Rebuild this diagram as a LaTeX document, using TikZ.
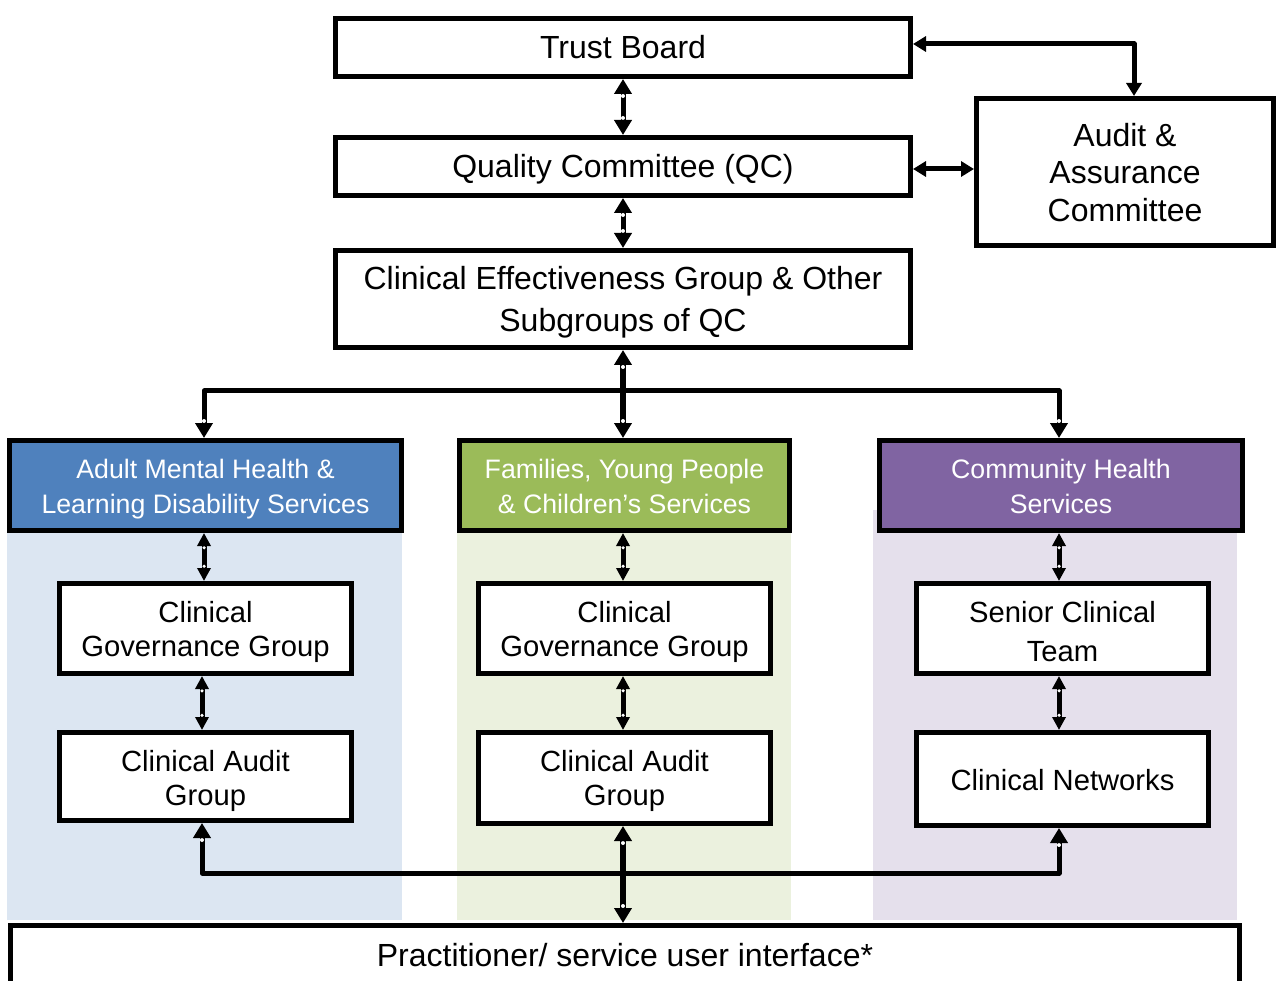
\documentclass[tikz,border=0pt]{standalone}
\usepackage{fontspec}
\setmainfont{Liberation Sans}
\usetikzlibrary{arrows.meta,calc}
\definecolor{hblue}{HTML}{4F81BD}
\definecolor{hgreen}{HTML}{9BBB59}
\definecolor{hpurple}{HTML}{8064A2}
\definecolor{lblue}{HTML}{DCE6F2}
\definecolor{lgreen}{HTML}{EBF1DE}
\definecolor{lpurple}{HTML}{E5E0EC}
\newcommand{\mytxt}[2]{\raisebox{-#1}[\height][\depth]{\begin{tabular}{@{}c@{}}#2\end{tabular}}}
\tikzset{
  box/.style={draw, line width=5pt, fill=white, inner sep=0pt,
    font=\fontsize{32}{37.5}\selectfont},
  bigbox/.style={box, font=\fontsize{32}{41.5}\selectfont},
  subbox/.style={box, font=\fontsize{29.2}{34}\selectfont},
  hdr/.style={draw, line width=5pt, inner sep=0pt, text=white,
    font=\fontsize{26.7}{35}\selectfont},
  dbl/.style={line width=5pt, line join=round, shorten >=5pt, shorten <=5pt,
    arrows={Triangle[width=17pt,length=15pt,sep=-5pt] Circle[length=4pt,line width=0pt,color=white,fill=white]}-{Circle[length=4pt,line width=0pt,color=white,fill=white] Triangle[width=17pt,length=15pt,sep=-5pt]}},
  dbls/.style={line width=5pt, line join=round, shorten >=4pt, shorten <=4pt,
    arrows={Triangle[width=13pt,length=13pt,sep=-4pt] Circle[length=3.5pt,line width=0pt,color=white,fill=white]}-{Circle[length=3.5pt,line width=0pt,color=white,fill=white] Triangle[width=13pt,length=13pt,sep=-4pt]}},
  sgl/.style={line width=5pt, line join=round, shorten >=5pt,
    arrows=-{Circle[length=4pt,line width=0pt,color=white,fill=white] Triangle[width=17pt,length=15pt,sep=-5pt]}},
  hh/.style={line width=5pt, line join=round,
    arrows={Triangle[width=15pt,length=13pt]}-{Triangle[width=15pt,length=13pt]}}
}
\begin{document}
\begin{tikzpicture}[x=1pt,y=-1pt]
\useasboundingbox (0,0) rectangle (1277,981);
% background panels
\fill[lblue] (7,533) rectangle (402,920);
\fill[lgreen] (457,533) rectangle (791,920);
\fill[lpurple] (873,510) rectangle (1237,920);
% top boxes
\node[box, minimum width=575pt, minimum height=58pt] (tb) at (623,47.5) {\mytxt{3.5pt}{Trust Board}};
\node[box, minimum width=575pt, minimum height=58pt] (qc) at (623,166.5) {\mytxt{3.5pt}{Quality Committee (QC)}};
\node[bigbox, minimum width=575pt, minimum height=97pt] (ceg) at (623,299) {\mytxt{3.3pt}{Clinical Effectiveness Group \& Other\\Subgroups of QC}};
\node[box, minimum width=297pt, minimum height=147pt] (au) at (1125,172) {\mytxt{4.5pt}{Audit \&\\Assurance\\Committee}};
% headers
\node[hdr, fill=hblue, minimum width=392pt, minimum height=90pt] (bh) at (205.5,485.5) {\mytxt{3.6pt}{Adult Mental Health \&\\Learning Disability Services}};
\node[hdr, fill=hgreen, minimum width=330pt, minimum height=90pt] (gh) at (624.5,485.5) {\mytxt{3.6pt}{Families, Young People\\\& Children’s Services}};
\node[hdr, fill=hpurple, minimum width=363pt, minimum height=90pt] (ph) at (1061,485.5) {\mytxt{3.6pt}{Community Health\\Services}};
% inner boxes
\node[subbox, minimum width=292pt, minimum height=90pt] (bcg) at (205.5,628.5) {\mytxt{4.2pt}{Clinical\\Governance Group}};
\node[subbox, minimum width=292pt, minimum height=88pt] (bca) at (205.5,776.5) {\mytxt{5pt}{Clinical Audit\\Group}};
\node[subbox, minimum width=292pt, minimum height=90pt] (gcg) at (624.5,628.5) {\mytxt{4.2pt}{Clinical\\Governance Group}};
\node[subbox, minimum width=292pt, minimum height=91pt] (gca) at (624.5,778) {\mytxt{3.8pt}{Clinical Audit\\Group}};
\node[subbox, font=\fontsize{29.2}{39}\selectfont, minimum width=292pt, minimum height=90pt] (pst) at (1062.5,628.5) {\mytxt{5.2pt}{Senior Clinical\\Team}};
\node[subbox, minimum width=292pt, minimum height=93pt] (pcn) at (1062.5,779) {\mytxt{4.2pt}{Clinical Networks}};
% bottom box
\node[box, minimum width=1229pt, minimum height=60pt] (pr) at (625,955.5) {\mytxt{3.5pt}{Practitioner/ service user interface*}};
% connectors top
\draw[hh] ([yshift=3.5pt]tb.east) -| ([xshift=9pt]au.north);
\draw[hh] ([yshift=-2.5pt]qc.east) -- ([yshift=-2.5pt]qc.east -| au.west);
\draw[dbl] (tb) -- (qc);
\draw[dbl] (qc) -- (ceg);
\draw[dbl, line width=6pt] (ceg.south) -- (ceg.south |- gh.north);
\coordinate (br) at (623,391);
\draw[sgl] (br) -| ([xshift=-1.5pt]bh.north);
\draw[sgl] (br) -| ([xshift=-2pt]ph.north);
% header to governance
\draw[dbls] ([xshift=-1.5pt]bh.south) -- ([xshift=-1.5pt]bcg.north);
\draw[dbls] ([xshift=-1.5pt]gh.south) -- ([xshift=-1.5pt]gcg.north);
\draw[dbls] ([xshift=-2pt]ph.south) -- ([xshift=-3.5pt]pst.north);
% governance to audit
\draw[dbls] ([xshift=-3.5pt]bcg.south) -- ([xshift=-3.5pt]bca.north);
\draw[dbls] ([xshift=-1.5pt]gcg.south) -- ([xshift=-1.5pt]gca.north);
\draw[dbls] ([xshift=-3.5pt]pst.south) -- ([xshift=-3.5pt]pcn.north);
% bottom
\coordinate (jb) at (623,873);
\draw[sgl] (jb) -| ([xshift=-3.5pt]bca.south);
\draw[sgl] (jb) -| ([xshift=-3.5pt]pcn.south);
\draw[dbl, line width=6pt] ([xshift=-1.5pt]gca.south) -- ([xshift=-1.5pt]gca.south |- pr.north);
\end{tikzpicture}
\end{document}
